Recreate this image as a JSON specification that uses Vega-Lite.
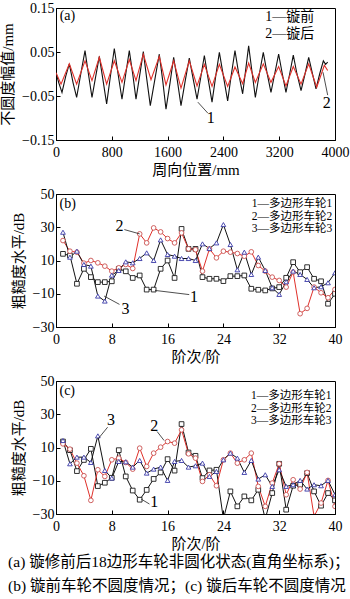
{
  "$schema": "https://vega.github.io/schema/vega-lite/v6.json",
  "background": "white",
  "padding": {"left": 0, "top": 0, "right": 0, "bottom": 0},
  "spacing": 8,
  "datasets": {
    "a": [
      {"pos":0,"amp":0.003,"s":"1"},{"pos":40,"amp":-0.02,"s":"1"},{"pos":86,"amp":-0.042,"s":"1"},{"pos":140,"amp":-0.005,"s":"1"},{"pos":191,"amp":0.023,"s":"1"},{"pos":245,"amp":-0.02,"s":"1"},{"pos":296,"amp":-0.053,"s":"1"},{"pos":355,"amp":0.0,"s":"1"},{"pos":416,"amp":0.053,"s":"1"},{"pos":465,"amp":0.0,"s":"1"},{"pos":516,"amp":-0.053,"s":"1"},{"pos":570,"amp":-0.005,"s":"1"},{"pos":621,"amp":0.04,"s":"1"},{"pos":675,"amp":-0.015,"s":"1"},{"pos":726,"amp":-0.068,"s":"1"},{"pos":780,"amp":-0.005,"s":"1"},{"pos":836,"amp":0.058,"s":"1"},{"pos":890,"amp":0.0,"s":"1"},{"pos":946,"amp":-0.057,"s":"1"},{"pos":1000,"amp":0.0,"s":"1"},{"pos":1051,"amp":0.053,"s":"1"},{"pos":1100,"amp":0.0,"s":"1"},{"pos":1147,"amp":-0.057,"s":"1"},{"pos":1200,"amp":-0.003,"s":"1"},{"pos":1252,"amp":0.051,"s":"1"},{"pos":1300,"amp":-0.01,"s":"1"},{"pos":1352,"amp":-0.072,"s":"1"},{"pos":1420,"amp":-0.01,"s":"1"},{"pos":1481,"amp":0.045,"s":"1"},{"pos":1530,"amp":-0.015,"s":"1"},{"pos":1577,"amp":-0.08,"s":"1"},{"pos":1635,"amp":-0.02,"s":"1"},{"pos":1687,"amp":0.038,"s":"1"},{"pos":1740,"amp":-0.015,"s":"1"},{"pos":1792,"amp":-0.072,"s":"1"},{"pos":1850,"amp":-0.018,"s":"1"},{"pos":1911,"amp":0.036,"s":"1"},{"pos":1965,"amp":-0.01,"s":"1"},{"pos":2022,"amp":-0.057,"s":"1"},{"pos":2075,"amp":-0.008,"s":"1"},{"pos":2127,"amp":0.042,"s":"1"},{"pos":2180,"amp":-0.01,"s":"1"},{"pos":2237,"amp":-0.064,"s":"1"},{"pos":2290,"amp":-0.005,"s":"1"},{"pos":2342,"amp":0.049,"s":"1"},{"pos":2400,"amp":-0.005,"s":"1"},{"pos":2461,"amp":-0.061,"s":"1"},{"pos":2515,"amp":0.0,"s":"1"},{"pos":2566,"amp":0.053,"s":"1"},{"pos":2620,"amp":0.0,"s":"1"},{"pos":2676,"amp":-0.045,"s":"1"},{"pos":2720,"amp":0.01,"s":"1"},{"pos":2762,"amp":0.064,"s":"1"},{"pos":2810,"amp":0.005,"s":"1"},{"pos":2858,"amp":-0.053,"s":"1"},{"pos":2915,"amp":0.0,"s":"1"},{"pos":2972,"amp":0.049,"s":"1"},{"pos":3025,"amp":0.003,"s":"1"},{"pos":3082,"amp":-0.042,"s":"1"},{"pos":3135,"amp":0.0,"s":"1"},{"pos":3192,"amp":0.045,"s":"1"},{"pos":3245,"amp":0.0,"s":"1"},{"pos":3297,"amp":-0.042,"s":"1"},{"pos":3350,"amp":0.0,"s":"1"},{"pos":3402,"amp":0.043,"s":"1"},{"pos":3455,"amp":0.0,"s":"1"},{"pos":3513,"amp":-0.038,"s":"1"},{"pos":3570,"amp":0.0,"s":"1"},{"pos":3623,"amp":0.038,"s":"1"},{"pos":3675,"amp":0.002,"s":"1"},{"pos":3728,"amp":-0.034,"s":"1"},{"pos":3780,"amp":0.0,"s":"1"},{"pos":3833,"amp":0.03,"s":"1"},{"pos":3865,"amp":0.022,"s":"1"},{"pos":3895,"amp":0.027,"s":"1"},
      {"pos":0,"amp":0.003,"s":"2"},{"pos":72,"amp":-0.023,"s":"2"},{"pos":191,"amp":0.023,"s":"2"},{"pos":296,"amp":-0.023,"s":"2"},{"pos":416,"amp":0.03,"s":"2"},{"pos":516,"amp":-0.015,"s":"2"},{"pos":621,"amp":0.038,"s":"2"},{"pos":726,"amp":-0.023,"s":"2"},{"pos":836,"amp":0.03,"s":"2"},{"pos":946,"amp":-0.019,"s":"2"},{"pos":1051,"amp":0.033,"s":"2"},{"pos":1147,"amp":-0.015,"s":"2"},{"pos":1252,"amp":0.045,"s":"2"},{"pos":1362,"amp":-0.013,"s":"2"},{"pos":1481,"amp":0.04,"s":"2"},{"pos":1577,"amp":-0.025,"s":"2"},{"pos":1687,"amp":0.03,"s":"2"},{"pos":1792,"amp":-0.032,"s":"2"},{"pos":1911,"amp":0.03,"s":"2"},{"pos":2022,"amp":-0.027,"s":"2"},{"pos":2127,"amp":0.022,"s":"2"},{"pos":2237,"amp":-0.028,"s":"2"},{"pos":2342,"amp":0.022,"s":"2"},{"pos":2461,"amp":-0.028,"s":"2"},{"pos":2566,"amp":0.016,"s":"2"},{"pos":2676,"amp":-0.022,"s":"2"},{"pos":2762,"amp":0.025,"s":"2"},{"pos":2858,"amp":-0.019,"s":"2"},{"pos":2972,"amp":0.023,"s":"2"},{"pos":3082,"amp":-0.019,"s":"2"},{"pos":3192,"amp":0.017,"s":"2"},{"pos":3297,"amp":-0.027,"s":"2"},{"pos":3402,"amp":0.017,"s":"2"},{"pos":3513,"amp":-0.023,"s":"2"},{"pos":3623,"amp":0.023,"s":"2"},{"pos":3738,"amp":-0.03,"s":"2"},{"pos":3847,"amp":0.02,"s":"2"},{"pos":3895,"amp":0.008,"s":"2"}
    ],
    "aText": [
      {"pos":53,"amp":0.132,"t":"(a)"},
      {"pos":3000,"amp":0.129,"t":"1—镟前"},
      {"pos":3000,"amp":0.091,"t":"2—镟后"}
    ],
    "aNum": [
      {"pos":2220,"amp":-0.099,"t":"1"},
      {"pos":3880,"amp":-0.066,"t":"2"}
    ],
    "aRule": [
      {"pos":2034,"amp":-0.064,"pos2":2177,"amp2":-0.089},
      {"pos":3828,"amp":0.004,"pos2":3895,"amp2":-0.048}
    ],
    "b": [
      {"o":1,"v":14,"w":"1"},{"o":2,"v":13,"w":"1"},{"o":3,"v":-4,"w":"1"},{"o":4,"v":5,"w":"1"},{"o":5,"v":0,"w":"1"},{"o":6,"v":-3,"w":"1"},{"o":7,"v":-3,"w":"1"},{"o":8,"v":-2.5,"w":"1"},{"o":9,"v":5,"w":"1"},{"o":10,"v":3.5,"w":"1"},{"o":11,"v":-0.5,"w":"1"},{"o":12,"v":1,"w":"1"},{"o":13,"v":-7.5,"w":"1"},{"o":14,"v":-7.5,"w":"1"},{"o":15,"v":5,"w":"1"},{"o":16,"v":10,"w":"1"},{"o":17,"v":-0.5,"w":"1"},{"o":18,"v":29,"w":"1"},{"o":19,"v":17,"w":"1"},{"o":20,"v":17,"w":"1"},{"o":21,"v":0,"w":"1"},{"o":22,"v":-1,"w":"1"},{"o":23,"v":-1,"w":"1"},{"o":24,"v":-2.4,"w":"1"},{"o":25,"v":0.6,"w":"1"},{"o":26,"v":0.6,"w":"1"},{"o":27,"v":1,"w":"1"},{"o":28,"v":-7,"w":"1"},{"o":29,"v":-7.6,"w":"1"},{"o":30,"v":-8,"w":"1"},{"o":31,"v":-6.8,"w":"1"},{"o":32,"v":-6,"w":"1"},{"o":33,"v":-0.4,"w":"1"},{"o":34,"v":9,"w":"1"},{"o":35,"v":3,"w":"1"},{"o":36,"v":6,"w":"1"},{"o":37,"v":-1,"w":"1"},{"o":38,"v":-2.5,"w":"1"},{"o":39,"v":-16,"w":"1"},{"o":40,"v":-10,"w":"1"},
      {"o":1,"v":22,"w":"2"},{"o":2,"v":15.6,"w":"2"},{"o":3,"v":15,"w":"2"},{"o":4,"v":8.4,"w":"2"},{"o":5,"v":10,"w":"2"},{"o":6,"v":8.6,"w":"2"},{"o":7,"v":6.6,"w":"2"},{"o":8,"v":3.6,"w":"2"},{"o":9,"v":5.6,"w":"2"},{"o":10,"v":7.6,"w":"2"},{"o":11,"v":5.2,"w":"2"},{"o":12,"v":26,"w":"2"},{"o":13,"v":20.6,"w":"2"},{"o":14,"v":29.6,"w":"2"},{"o":15,"v":27.2,"w":"2"},{"o":16,"v":23.2,"w":"2"},{"o":17,"v":20.6,"w":"2"},{"o":18,"v":26.6,"w":"2"},{"o":19,"v":17,"w":"2"},{"o":20,"v":16.5,"w":"2"},{"o":21,"v":3.6,"w":"2"},{"o":22,"v":17,"w":"2"},{"o":23,"v":11.6,"w":"2"},{"o":24,"v":15.6,"w":"2"},{"o":25,"v":15,"w":"2"},{"o":26,"v":14.2,"w":"2"},{"o":27,"v":12.6,"w":"2"},{"o":28,"v":15.2,"w":"2"},{"o":29,"v":7,"w":"2"},{"o":30,"v":3.6,"w":"2"},{"o":31,"v":0,"w":"2"},{"o":32,"v":-2,"w":"2"},{"o":33,"v":-6,"w":"2"},{"o":34,"v":3,"w":"2"},{"o":35,"v":-22,"w":"2"},{"o":36,"v":-18.8,"w":"2"},{"o":37,"v":-6,"w":"2"},{"o":38,"v":-9.4,"w":"2"},{"o":39,"v":-12.4,"w":"2"},{"o":40,"v":-7.4,"w":"2"},
      {"o":1,"v":27,"w":"3"},{"o":2,"v":12,"w":"3"},{"o":3,"v":15.6,"w":"3"},{"o":4,"v":7.6,"w":"3"},{"o":5,"v":6.6,"w":"3"},{"o":6,"v":-11.4,"w":"3"},{"o":7,"v":-14.4,"w":"3"},{"o":8,"v":1.2,"w":"3"},{"o":9,"v":4,"w":"3"},{"o":10,"v":9.2,"w":"3"},{"o":11,"v":8.6,"w":"3"},{"o":12,"v":11.2,"w":"3"},{"o":13,"v":14.6,"w":"3"},{"o":14,"v":10,"w":"3"},{"o":15,"v":22.4,"w":"3"},{"o":16,"v":13.6,"w":"3"},{"o":17,"v":12.6,"w":"3"},{"o":18,"v":11.2,"w":"3"},{"o":19,"v":11.2,"w":"3"},{"o":20,"v":10,"w":"3"},{"o":21,"v":20,"w":"3"},{"o":22,"v":17.2,"w":"3"},{"o":23,"v":20.6,"w":"3"},{"o":24,"v":31.6,"w":"3"},{"o":25,"v":19.6,"w":"3"},{"o":26,"v":4.4,"w":"3"},{"o":27,"v":15,"w":"3"},{"o":28,"v":1.6,"w":"3"},{"o":29,"v":12,"w":"3"},{"o":30,"v":4,"w":"3"},{"o":31,"v":-6.4,"w":"3"},{"o":32,"v":-10.4,"w":"3"},{"o":33,"v":-2.8,"w":"3"},{"o":34,"v":3.6,"w":"3"},{"o":35,"v":1.6,"w":"3"},{"o":36,"v":-1.4,"w":"3"},{"o":37,"v":-6.4,"w":"3"},{"o":38,"v":-5.8,"w":"3"},{"o":39,"v":-3.4,"w":"3"},{"o":40,"v":2.6,"w":"3"}
    ],
    "bText": [{"o":0.5,"v":44,"t":"(b)"}],
    "bLeg": [
      {"o":39.6,"v":44,"t":"1—多边形车轮1"},
      {"o":39.6,"v":36.4,"t":"2—多边形车轮2"},
      {"o":39.6,"v":28.8,"t":"3—多边形车轮3"}
    ],
    "bNum": [
      {"o":9.1,"v":30.6,"t":"2"},
      {"o":19.8,"v":-12,"t":"1"},
      {"o":9.95,"v":-19.4,"t":"3"}
    ],
    "bRule": [
      {"o":9.8,"v":28.6,"o2":12,"v2":26},
      {"o":14.2,"v":-8,"o2":19.1,"v2":-10.5},
      {"o":6.9,"v":-11.4,"o2":9.1,"v2":-16.4}
    ],
    "c": [
      {"o":1,"v":13.6,"w":"1"},{"o":2,"v":8.4,"w":"1"},{"o":3,"v":-4.2,"w":"1"},{"o":4,"v":2.5,"w":"1"},{"o":5,"v":9.2,"w":"1"},{"o":6,"v":-13.2,"w":"1"},{"o":7,"v":-11.2,"w":"1"},{"o":8,"v":-8.2,"w":"1"},{"o":9,"v":8.4,"w":"1"},{"o":10,"v":-7.4,"w":"1"},{"o":11,"v":-15.9,"w":"1"},{"o":12,"v":-21.4,"w":"1"},{"o":13,"v":-15.5,"w":"1"},{"o":14,"v":-8.9,"w":"1"},{"o":15,"v":-5,"w":"1"},{"o":16,"v":3,"w":"1"},{"o":17,"v":-3.9,"w":"1"},{"o":18,"v":24.1,"w":"1"},{"o":19,"v":7,"w":"1"},{"o":20,"v":5,"w":"1"},{"o":21,"v":-8.4,"w":"1"},{"o":22,"v":-3.8,"w":"1"},{"o":23,"v":-3.4,"w":"1"},{"o":24,"v":-33,"w":"1"},{"o":25,"v":-16.4,"w":"1"},{"o":26,"v":-25.4,"w":"1"},{"o":27,"v":-19.4,"w":"1"},{"o":28,"v":-21.8,"w":"1"},{"o":29,"v":-15.4,"w":"1"},{"o":30,"v":-33,"w":"1"},{"o":31,"v":-17.4,"w":"1"},{"o":32,"v":0.2,"w":"1"},{"o":33,"v":-27.4,"w":"1"},{"o":34,"v":-13,"w":"1"},{"o":35,"v":-12.4,"w":"1"},{"o":36,"v":-5.4,"w":"1"},{"o":37,"v":-16.4,"w":"1"},{"o":38,"v":-25,"w":"1"},{"o":39,"v":-17.4,"w":"1"},{"o":40,"v":-21.8,"w":"1"},
      {"o":1,"v":12.2,"w":"2"},{"o":2,"v":9,"w":"2"},{"o":3,"v":0.6,"w":"2"},{"o":4,"v":-7,"w":"2"},{"o":5,"v":-21.8,"w":"2"},{"o":6,"v":-3.4,"w":"2"},{"o":7,"v":-7.4,"w":"2"},{"o":8,"v":2.6,"w":"2"},{"o":9,"v":3.6,"w":"2"},{"o":10,"v":1,"w":"2"},{"o":11,"v":-3,"w":"2"},{"o":12,"v":9.6,"w":"2"},{"o":13,"v":-1.4,"w":"2"},{"o":14,"v":6.6,"w":"2"},{"o":15,"v":10.2,"w":"2"},{"o":16,"v":13.6,"w":"2"},{"o":17,"v":12.6,"w":"2"},{"o":18,"v":20.6,"w":"2"},{"o":19,"v":6.2,"w":"2"},{"o":20,"v":3.6,"w":"2"},{"o":21,"v":-10.4,"w":"2"},{"o":22,"v":-6.4,"w":"2"},{"o":23,"v":-13,"w":"2"},{"o":24,"v":2.6,"w":"2"},{"o":25,"v":6.6,"w":"2"},{"o":26,"v":0.6,"w":"2"},{"o":27,"v":2.6,"w":"2"},{"o":28,"v":6.6,"w":"2"},{"o":29,"v":-13.4,"w":"2"},{"o":30,"v":-25.4,"w":"2"},{"o":31,"v":-11.4,"w":"2"},{"o":32,"v":0.2,"w":"2"},{"o":33,"v":-18.4,"w":"2"},{"o":34,"v":-9.4,"w":"2"},{"o":35,"v":-15,"w":"2"},{"o":36,"v":-5,"w":"2"},{"o":37,"v":-31.4,"w":"2"},{"o":38,"v":-23.4,"w":"2"},{"o":39,"v":-9.8,"w":"2"},{"o":40,"v":-25.4,"w":"2"},
      {"o":1,"v":14.2,"w":"3"},{"o":2,"v":0.2,"w":"3"},{"o":3,"v":4.2,"w":"3"},{"o":4,"v":4.2,"w":"3"},{"o":5,"v":1,"w":"3"},{"o":6,"v":17,"w":"3"},{"o":7,"v":-3.8,"w":"3"},{"o":8,"v":-8.4,"w":"3"},{"o":9,"v":1.6,"w":"3"},{"o":10,"v":1.4,"w":"3"},{"o":11,"v":-1.8,"w":"3"},{"o":12,"v":2.2,"w":"3"},{"o":13,"v":-5.4,"w":"3"},{"o":14,"v":-3,"w":"3"},{"o":15,"v":-1.8,"w":"3"},{"o":16,"v":-9.8,"w":"3"},{"o":17,"v":1.6,"w":"3"},{"o":18,"v":2.2,"w":"3"},{"o":19,"v":-1.8,"w":"3"},{"o":20,"v":-1,"w":"3"},{"o":21,"v":0.6,"w":"3"},{"o":22,"v":-7.4,"w":"3"},{"o":23,"v":-4.4,"w":"3"},{"o":24,"v":2.6,"w":"3"},{"o":25,"v":6.6,"w":"3"},{"o":26,"v":3.6,"w":"3"},{"o":27,"v":-5,"w":"3"},{"o":28,"v":2.2,"w":"3"},{"o":29,"v":-9,"w":"3"},{"o":30,"v":-6.4,"w":"3"},{"o":31,"v":-13.4,"w":"3"},{"o":32,"v":-3.4,"w":"3"},{"o":33,"v":-13.4,"w":"3"},{"o":34,"v":-12.4,"w":"3"},{"o":35,"v":-9.8,"w":"3"},{"o":36,"v":-15,"w":"3"},{"o":37,"v":-12.4,"w":"3"},{"o":38,"v":-13,"w":"3"},{"o":39,"v":-9.8,"w":"3"},{"o":40,"v":-18.4,"w":"3"}
    ],
    "cText": [{"o":0.5,"v":44,"t":"(c)"}],
    "cLeg": [
      {"o":39.5,"v":41,"t":"1—多边形车轮1"},
      {"o":39.5,"v":33.4,"t":"2—多边形车轮2"},
      {"o":39.5,"v":25.8,"t":"3—多边形车轮3"}
    ],
    "cNum": [
      {"o":7.9,"v":26.4,"t":"3"},
      {"o":14.1,"v":23,"t":"2"},
      {"o":14.1,"v":-23,"t":"1"}
    ],
    "cRule": [
      {"o":7.4,"v":22.2,"o2":6.0,"v2":15},
      {"o":14.5,"v":19.6,"o2":15.5,"v2":14.2},
      {"o":12.2,"v":-21,"o2":13.4,"v2":-24}
    ]
  },
  "vconcat": [
    {
      "width": 279, "height": 132,
      "encoding": {
        "x": {"field": "pos", "type": "quantitative", "scale": {"domain": [0, 4000], "nice": false}, "axis": {"values": [0, 800, 1600, 2400, 3200, 4000], "format": "d", "title": "周向位置/mm"}},
        "y": {"field": "amp", "type": "quantitative", "scale": {"domain": [-0.15, 0.15], "nice": false}, "axis": {"values": [-0.15, -0.05, 0.05, 0.15], "format": ".2f", "title": "不圆度幅值/mm"}}
      },
      "layer": [
        {"data": {"name": "a"}, "mark": {"type": "line", "strokeWidth": 1.1, "clip": true},
         "encoding": {"color": {"field": "s", "type": "nominal", "scale": {"domain": ["1", "2"], "range": ["#111111", "#e0302a"]}, "legend": null}}},
        {"data": {"name": "aRule"}, "mark": {"type": "rule", "strokeWidth": 0.8, "color": "#222"},
         "encoding": {"x2": {"field": "pos2"}, "y2": {"field": "amp2"}}},
        {"data": {"name": "aText"}, "mark": {"type": "text", "align": "left", "baseline": "middle", "fontSize": 14, "color": "#000"},
         "encoding": {"text": {"field": "t"}}},
        {"data": {"name": "aNum"}, "mark": {"type": "text", "align": "center", "baseline": "middle", "fontSize": 16, "color": "#000"},
         "encoding": {"text": {"field": "t"}}}
      ]
    },
    {
      "width": 279, "height": 133,
      "encoding": {
        "x": {"field": "o", "type": "quantitative", "scale": {"domain": [0, 40], "nice": false}, "axis": {"values": [0, 8, 16, 24, 32, 40], "title": "阶次/阶"}},
        "y": {"field": "v", "type": "quantitative", "scale": {"domain": [-30, 50], "nice": false}, "axis": {"values": [-30, -10, 10, 30, 50], "title": "粗糙度水平/dB"}}
      },
      "layer": [
        {"data": {"name": "b"}, "mark": {"type": "line", "strokeWidth": 1, "clip": true},
         "encoding": {"color": {"field": "w", "type": "nominal", "scale": {"domain": ["1", "2", "3"], "range": ["#1a1a1a", "#c9504f", "#3a3aa8"]}, "legend": null}}},
        {"data": {"name": "b"}, "mark": {"type": "point", "fill": "white", "fillOpacity": 1, "strokeWidth": 0.9, "size": 22, "opacity": 1, "clip": true},
         "encoding": {"stroke": {"field": "w", "type": "nominal", "scale": {"domain": ["1", "2", "3"], "range": ["#1a1a1a", "#c9504f", "#3a3aa8"]}, "legend": null},
                      "shape": {"field": "w", "type": "nominal", "scale": {"domain": ["1", "2", "3"], "range": ["square", "circle", "triangle-up"]}, "legend": null}}},
        {"data": {"name": "bRule"}, "mark": {"type": "rule", "strokeWidth": 0.8, "color": "#222"},
         "encoding": {"x2": {"field": "o2"}, "y2": {"field": "v2"}}},
        {"data": {"name": "bText"}, "mark": {"type": "text", "align": "left", "baseline": "middle", "fontSize": 14, "color": "#000"},
         "encoding": {"text": {"field": "t"}}},
        {"data": {"name": "bLeg"}, "mark": {"type": "text", "align": "right", "baseline": "middle", "fontSize": 11.5, "color": "#000"},
         "encoding": {"text": {"field": "t"}}},
        {"data": {"name": "bNum"}, "mark": {"type": "text", "align": "center", "baseline": "middle", "fontSize": 16, "color": "#000"},
         "encoding": {"text": {"field": "t"}}}
      ]
    },
    {
      "width": 279, "height": 133,
      "encoding": {
        "x": {"field": "o", "type": "quantitative", "scale": {"domain": [0, 40], "nice": false}, "axis": {"values": [0, 8, 16, 24, 32, 40], "title": "阶次/阶"}},
        "y": {"field": "v", "type": "quantitative", "scale": {"domain": [-30, 50], "nice": false}, "axis": {"values": [-30, -10, 10, 30, 50], "title": "粗糙度水平/dB"}}
      },
      "layer": [
        {"data": {"name": "c"}, "mark": {"type": "line", "strokeWidth": 1, "clip": true},
         "encoding": {"color": {"field": "w", "type": "nominal", "scale": {"domain": ["1", "2", "3"], "range": ["#1a1a1a", "#c9504f", "#3a3aa8"]}, "legend": null}}},
        {"data": {"name": "c"}, "mark": {"type": "point", "fill": "white", "fillOpacity": 1, "strokeWidth": 0.9, "size": 22, "opacity": 1, "clip": true},
         "encoding": {"stroke": {"field": "w", "type": "nominal", "scale": {"domain": ["1", "2", "3"], "range": ["#1a1a1a", "#c9504f", "#3a3aa8"]}, "legend": null},
                      "shape": {"field": "w", "type": "nominal", "scale": {"domain": ["1", "2", "3"], "range": ["square", "circle", "triangle-up"]}, "legend": null}}},
        {"data": {"name": "cRule"}, "mark": {"type": "rule", "strokeWidth": 0.8, "color": "#222"},
         "encoding": {"x2": {"field": "o2"}, "y2": {"field": "v2"}}},
        {"data": {"name": "cText"}, "mark": {"type": "text", "align": "left", "baseline": "middle", "fontSize": 14, "color": "#000"},
         "encoding": {"text": {"field": "t"}}},
        {"data": {"name": "cLeg"}, "mark": {"type": "text", "align": "right", "baseline": "middle", "fontSize": 11.5, "color": "#000"},
         "encoding": {"text": {"field": "t"}}},
        {"data": {"name": "cNum"}, "mark": {"type": "text", "align": "center", "baseline": "middle", "fontSize": 16, "color": "#000"},
         "encoding": {"text": {"field": "t"}}}
      ]
    }
  ],
  "title": {
    "text": ["(a) 镟修前后18边形车轮非圆化状态(直角坐标系)；", "(b) 镟前车轮不圆度情况；(c) 镟后车轮不圆度情况"],
    "orient": "bottom", "anchor": "start", "frame": "bounds",
    "fontSize": 15.5, "fontWeight": "normal", "lineHeight": 24, "offset": 3, "dx": 8, "color": "#000"
  },
  "config": {
    "font": "'Liberation Serif', 'Noto Sans CJK SC', serif",
    "view": {"stroke": "#000", "strokeWidth": 1},
    "axis": {"grid": false, "domainColor": "#000", "tickColor": "#000", "labelColor": "#000", "titleColor": "#000",
             "labelFontSize": 14, "titleFontSize": 15, "titleFontWeight": "normal", "tickSize": -4, "labelFlush": false, "labelOverlap": false},
    "axisX": {"labelPadding": 9, "titlePadding": 3},
    "axisY": {"labelPadding": 6, "titlePadding": 6}
  }
}
